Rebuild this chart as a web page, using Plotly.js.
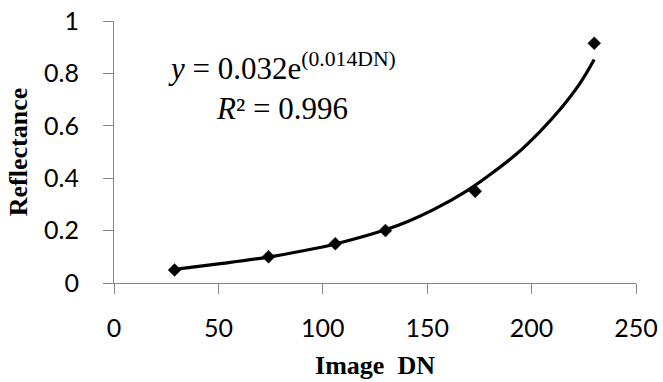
<!DOCTYPE html>
<html>
<head>
<meta charset="utf-8">
<script src="https://cdn.plot.ly/plotly-3.0.1.min.js"></script>
<style>html,body{margin:0;padding:0;background:#fff;}#chart{width:663px;height:382px;}</style>
</head>
<body>
<div id="chart"></div>
<script>
// Measured points
const imageDN = [29, 74, 106, 130, 173, 230];
const reflectance = [0.05, 0.10, 0.15, 0.20, 0.35, 0.915];

// Exponential trendline
const trendDN = [29, 50, 74, 90, 106, 130, 141, 153, 169, 180, 193, 204, 214, 223, 230];
const trendRefl = [0.052, 0.073, 0.099, 0.122, 0.149, 0.203, 0.236, 0.280, 0.352, 0.413, 0.494, 0.578, 0.666, 0.760, 0.853];

const xTicks = [0, 50, 100, 150, 200, 250];
const yTicks = [0, 0.2, 0.4, 0.6, 0.8, 1];
const yTickText = ['0', '0.2', '0.4', '0.6', '0.8', '1'];

const equationLine1 = '<i>y</i> = 0.032e<sup>(0.014DN)</sup>';
const equationLine2 = '<i>R</i>² = 0.996';

const axisGray = '#868686';
const tickFont = {family: 'Lato, "Open Sans", sans-serif', size: 25, color: '#000'};
const titleFont = {family: '"Liberation Serif", "Times New Roman", serif', size: 26, color: '#000', weight: 'bold'};
const eqFont = {family: '"Liberation Serif", "Times New Roman", serif', size: 31, color: '#000'};

const traces = [
  {
    x: trendDN, y: trendRefl, type: 'scatter', mode: 'lines',
    line: {color: '#000', width: 3.2, shape: 'spline', smoothing: 1},
    hoverinfo: 'skip', showlegend: false
  },
  {
    x: imageDN, y: reflectance, type: 'scatter', mode: 'markers',
    marker: {symbol: 'diamond', size: 10, color: '#000', line: {color: '#222', width: 0.5}},
    showlegend: false
  }
];

const layout = {
  width: 663, height: 382,
  margin: {l: 113.5, r: 27.3, t: 21, b: 98.5},
  paper_bgcolor: '#fff', plot_bgcolor: '#fff',
  showlegend: false,
  xaxis: {
    range: [0, 250], tickvals: xTicks, ticktext: xTicks.map(String),
    showgrid: false, zeroline: false,
    showline: true, linecolor: axisGray, linewidth: 1,
    ticks: 'outside', ticklen: 10, tickcolor: axisGray, tickwidth: 1,
    tickfont: tickFont, ticklabelstandoff: 13,
    title: {text: '<b>Image  DN</b>', font: titleFont, standoff: 14},
    automargin: false, fixedrange: true
  },
  yaxis: {
    range: [0, 1], tickvals: yTicks, ticktext: yTickText,
    showgrid: false, zeroline: false,
    showline: true, linecolor: axisGray, linewidth: 1,
    ticks: 'outside', ticklen: 10, tickcolor: axisGray, tickwidth: 1,
    tickfont: tickFont, ticklabelstandoff: 19,
    title: {text: '<b>Reflectance</b>', font: titleFont, standoff: 8},
    automargin: false, fixedrange: true
  },
  annotations: [
    {
      xref: 'paper', yref: 'paper', x: 0.3227, y: 0.828,
      xanchor: 'center', yanchor: 'middle', align: 'center',
      text: equationLine1, showarrow: false, font: eqFont
    },
    {
      xref: 'paper', yref: 'paper', x: 0.3227, y: 0.665,
      xanchor: 'center', yanchor: 'middle', align: 'center',
      text: equationLine2, showarrow: false, font: eqFont
    }
  ]
};

Plotly.newPlot('chart', traces, layout, {staticPlot: true, displayModeBar: false});
</script>
</body>
</html>
